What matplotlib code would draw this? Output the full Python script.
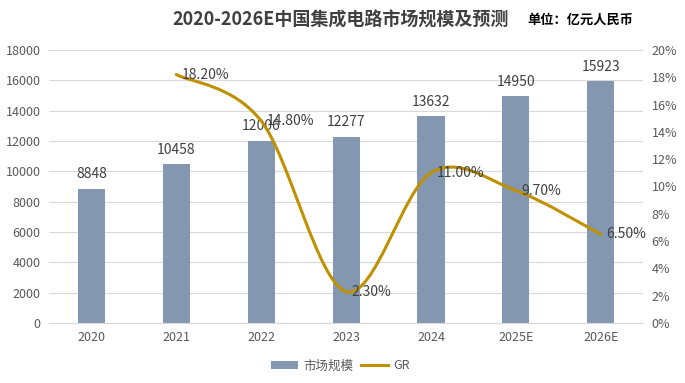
import matplotlib
matplotlib.use("Agg")
import matplotlib.pyplot as plt
from matplotlib.path import Path
from matplotlib.patches import PathPatch
from matplotlib.lines import Line2D
from matplotlib.patches import Patch

plt.rcParams['font.family'] = ['Noto Sans CJK SC', 'DejaVu Sans']

categories = ["2020", "2021", "2022", "2023", "2024", "2025E", "2026E"]
market_size = [8848, 10458, 12006, 12277, 13632, 14950, 15923]
gr_categories = ["2021", "2022", "2023", "2024", "2025E", "2026E"]
gr_values = [18.20, 14.80, 2.30, 11.00, 9.70, 6.50]

title = "2020-2026E中国集成电路市场规模及预测"
unit = "单位：亿元人民币"

bar_color = "#8497B0"
line_color = "#BF9000"
text_color = "#404040"
tick_color = "#595959"
grid_color = "#D9D9D9"

fig = plt.figure(figsize=(6.85, 3.83), dpi=100)
ax = fig.add_axes([0.0715, 0.1567, 0.8675, 0.7128])
ax2 = ax.twinx()

x = list(range(len(categories)))
ax.bar(x, market_size, width=0.32, color=bar_color, zorder=2)
for xi, v in zip(x, market_size):
    ax.text(xi, v + 500, str(v), ha='center', va='bottom', fontsize=10, color=text_color, zorder=5)

ax.set_xlim(-0.5, len(categories) - 0.5)
ax.set_ylim(0, 18000)
ax.set_yticks(range(0, 18001, 2000))
ax.set_xticks(x)
ax.set_xticklabels(categories)
ax.grid(axis='y', color=grid_color, linewidth=0.8, zorder=0)
ax.set_axisbelow(True)
for s in ax.spines.values():
    s.set_visible(False)
for s in ax2.spines.values():
    s.set_visible(False)
ax.spines['bottom'].set_visible(True)
ax.spines['bottom'].set_color(grid_color)
ax.tick_params(axis='both', length=0, labelsize=9, colors=tick_color, pad=6)

ax2.set_ylim(0, 20)
ax2.set_yticks(range(0, 21, 2))
ax2.set_yticklabels([f"{t}%" for t in range(0, 21, 2)])
ax2.tick_params(axis='y', length=0, labelsize=9, colors=tick_color, pad=6)

# smoothed line (Catmull-Rom style Bezier, like Excel smoothing)
gx = [categories.index(c) for c in gr_categories]
pts = list(zip(gx, gr_values))
n = len(pts)
verts = [pts[0]]
codes = [Path.MOVETO]
for i in range(n - 1):
    p0 = pts[i - 1] if i > 0 else pts[i]
    p1 = pts[i]
    p2 = pts[i + 1]
    p3 = pts[i + 2] if i + 2 < n else pts[i + 1]
    c1 = (p1[0] + (p2[0] - p0[0]) / 6, p1[1] + (p2[1] - p0[1]) / 6)
    c2 = (p2[0] - (p3[0] - p1[0]) / 6, p2[1] - (p3[1] - p1[1]) / 6)
    verts += [c1, c2, p2]
    codes += [Path.CURVE4] * 3
patch = PathPatch(Path(verts, codes), facecolor='none', edgecolor=line_color, linewidth=2.2, zorder=3,
                  capstyle='round', joinstyle='round')
ax2.add_patch(patch)
for xi, v in zip(gx, gr_values):
    ax2.annotate(f"{v:.2f}%", (xi, v), xytext=(4, 0), textcoords='offset points',
                 ha='left', va='center', fontsize=10, color=text_color, zorder=5)

fig.text(0.497, 0.948, title, ha='center', va='center', fontsize=13, fontweight='bold', color='#404040')
fig.text(0.847, 0.948, unit, ha='center', va='center', fontsize=9.5, fontweight='bold', color='#000000')

handles = [Patch(facecolor=bar_color, edgecolor='none'),
           Line2D([0], [0], color=line_color, linewidth=2.2)]
fig.legend(handles, ["市场规模", "GR"], loc='center', bbox_to_anchor=(0.497, 0.045), ncol=2,
           frameon=False, fontsize=9, labelcolor=tick_color, handlelength=2.2, handletextpad=0.4,
           columnspacing=0.6)

fig.savefig("out.png", dpi=100)
